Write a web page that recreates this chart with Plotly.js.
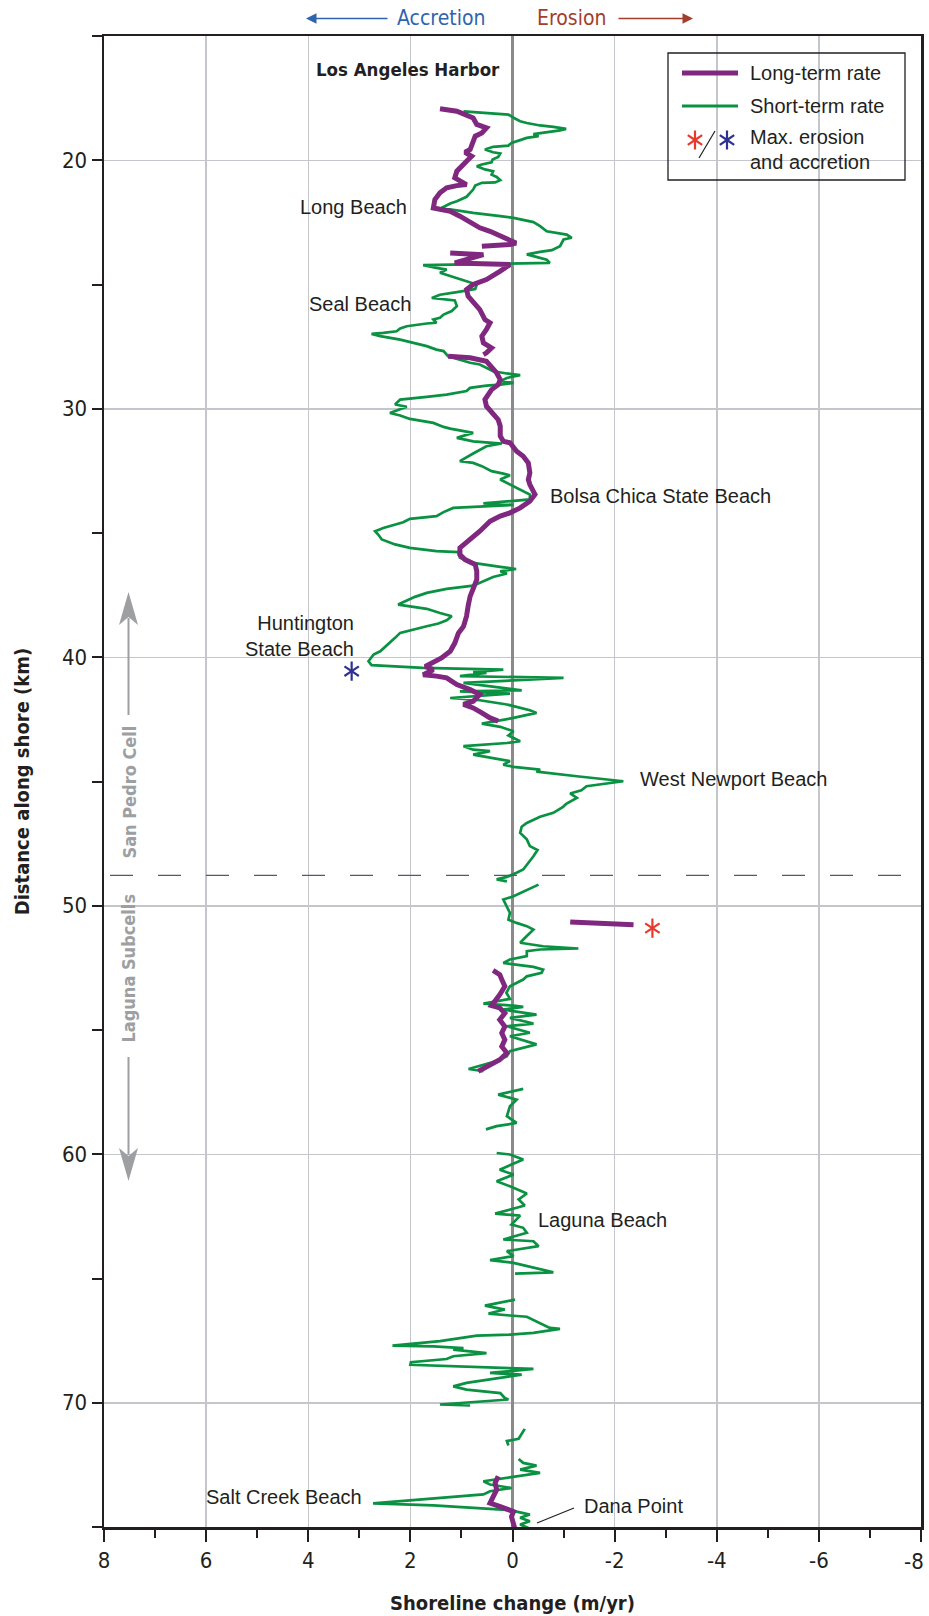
<!DOCTYPE html>
<html>
<head>
<meta charset="utf-8">
<script src="https://cdn.plot.ly/plotly-3.0.1.min.js"></script>
<style>
  html, body { margin: 0; padding: 0; background: #ffffff; }
  #chart { width: 929px; height: 1616px; }
</style>
</head>
<body>
<div id="chart"></div>
<script>
// Short-term shoreline change rate (m/yr) along the coast; null marks gaps in coverage.
const shortTermKm = [
  18.03, 18.12, 18.16, 18.29, 18.43, 18.50, 18.60, 18.66, 18.74, 18.80, 18.90, 18.95, 19.03, 19.10, 19.19,
  19.30, 19.41, 19.46, 19.57, 19.68, 19.73, 19.87, 19.97, 20.08, 20.17, 20.24, 20.37, 20.44, 20.58, 20.67,
  20.80, 20.89, 20.91, 21.02, 21.18, 21.31, 21.47, 21.65, 21.74, 21.92, 22.02, 22.12, 22.25, 22.32, 22.49,
  22.65, 22.86, 22.99, 23.12, 23.19, 23.46, 23.62, 23.69, 23.79, 23.86, 24.00, 24.13, 24.16, 24.20, 24.22,
  24.33, 24.40, 24.53, 24.67, 24.87, 25.00, 25.18, 25.31, 25.41, 25.54, 25.64, 25.87, 26.07, 26.21, 26.34,
  26.41, 26.54, 26.57, 26.68, 26.77, 26.88, 26.95, 26.99, 27.08, 27.22, 27.35, 27.48, 27.62, 27.68, 27.89,
  28.02, 28.15, 28.22, 28.36, 28.49, 28.58, 28.65, 28.76, 28.89, 28.96, 29.03, 29.07, 29.16, 29.29, 29.43,
  29.52, 29.63, 29.83, 29.92, 30.17, 30.27, 30.41, 30.57, 30.73, 30.80, 30.97, 31.17, 31.31, 31.40, 31.51,
  31.64, 31.80, 32.11, 32.18, 32.31, 32.51, 32.61, 32.68, 32.85, 32.98, 33.18, 33.45, 33.65, 33.81, 33.87,
  33.99, 34.16, 34.32, 34.43, 34.57, 34.80, 34.93, 35.06, 35.26, 35.46, 35.60, 35.73, 35.77, 36.00, 36.20,
  36.36, 36.45, 36.54, 36.63, 36.77, 37.12, 37.25, 37.41, 37.57, 37.88, 37.97, 38.05, 38.22, 38.35, 38.51,
  38.64, 38.75, 39.02, 39.22, 39.42, 39.76, 39.89, 40.16, 40.32, 40.43, 40.50, 40.60, 40.63, 40.76, 40.83,
  41.03, 41.33, 41.37, 41.46, 41.64, 41.73, 41.90, 42.13, 42.24, 42.44, 42.53, 42.67, 42.80, 42.98, 43.15,
  43.38, 43.45, 43.58, 43.72, 43.78, 43.92, 44.01, 44.12, 44.18, 44.32, 44.41, 44.52, 44.60, 44.79, 44.99,
  45.19, 45.35, 45.48, 45.66, 45.89, 46.02, 46.26, 46.42, 46.67, 46.82, 47.07, 47.33, 47.60, 47.76, 48.01,
  48.21, 48.54, 48.67, 48.84, 48.94, 49.02, null,
  49.15, 49.62, 49.75, 50.02, 50.29, 50.56, 50.69, 50.82, 50.96, 51.22, 51.49, 51.63, 51.72, 51.76, 51.83,
  52.03, 52.16, 52.30, 52.46, 52.57, 52.70, 52.84, 52.97, 53.24, 53.50, 53.75, 53.94, 54.02, 54.07, 54.18,
  54.38, 54.51, 54.74, 54.85, 55.11, 55.25, 55.58, 55.85, 56.05, 56.25, 56.46, 56.57, 56.66, null,
  57.37, 57.60, 57.80, 58.07, 58.47, 58.74, 58.87, 59.00, null,
  59.95, 60.01, 60.21, 60.62, 60.82, 61.09, 61.29, 61.58, 61.82, 62.06, 62.39, 62.47, 62.83, 62.96, 63.16,
  63.43, 63.50, 63.70, 63.90, 64.10, 64.26, 64.37, 64.75, 64.80, null,
  65.85, 66.09, 66.25, 66.41, 66.49, 66.54, 66.99, 67.03, 67.19, 67.26, 67.30, 67.39, 67.52, 67.70, 67.73,
  67.80, 67.86, 68.00, 68.13, 68.24, 68.37, 68.47, 68.53, 68.64, 68.80, 68.87, 69.20, 69.34, 69.47, 69.61,
  69.81, 69.87, 70.07, 70.11, null,
  71.05, 71.45, 71.54, 71.72, null,
  72.26, 72.42, 72.53, 72.69, 72.82, 72.96, 73.02, 73.16, 73.29, 73.43, 73.56, 73.69, 74.05, 74.13, 74.32,
  74.50, 74.63, 74.77, 74.90, 75.04
];
const shortTermRate = [
  0.96, 0.24, 0.08, -0.02, -0.15, -0.28, -0.54, -0.80, -1.05, -0.93, -0.54, -0.41, -0.51, -0.28, -0.15,
  0.02, 0.08, 0.38, 0.54, 0.38, 0.24, 0.28, 0.39, 0.41, 0.60, 0.70, 0.54, 0.38, 0.41, 0.31,
  0.24, 0.34, 0.60, 0.73, 0.77, 0.83, 0.90, 1.09, 1.22, 1.39, 1.09, 0.77, 0.24, -0.02, -0.41,
  -0.54, -0.67, -1.06, -1.16, -1.00, -0.93, -0.77, -0.54, -0.28, -0.41, -0.67, -0.73, 0.05, 1.22, 1.75,
  1.49, 1.29, 1.42, 1.22, 0.90, 0.70, 0.73, 1.09, 1.42, 1.58, 1.13, 1.09, 1.19, 1.35, 1.42,
  1.55, 1.49, 1.68, 2.07, 2.20, 2.27, 2.53, 2.76, 2.59, 2.20, 1.94, 1.68, 1.49, 1.35, 1.26,
  1.03, 0.83, 0.64, 0.51, 0.38, 0.11, -0.15, 0.11, 0.24, -0.02, 0.24, 0.51, 0.83, 0.90, 1.29,
  1.68, 2.20, 2.30, 2.07, 2.40, 2.20, 2.01, 1.55, 1.35, 1.22, 0.77, 1.09, 0.77, 0.21, 0.51,
  0.64, 0.77, 1.03, 0.77, 0.60, 0.41, 0.18, 0.05, 0.24, 0.11, -0.08, -0.34, -0.34, 0.57, -0.02,
  1.16, 1.35, 1.49, 2.01, 2.14, 2.53, 2.69, 2.63, 2.56, 2.30, 2.01, 1.49, 1.06, 1.03, 0.77,
  0.24, -0.07, 0.24, 0.11, 0.38, 0.77, 1.29, 1.68, 1.91, 2.24, 1.94, 1.68, 1.42, 1.19, 1.29,
  1.45, 1.68, 2.20, 2.30, 2.40, 2.59, 2.72, 2.82, 2.76, 1.75, 0.18, 0.77, 0.51, 1.03, -1.00,
  0.96, -0.18, 1.03, 0.05, 1.22, 0.64, 0.11, -0.34, -0.47, -0.02, 0.24, 0.60, 0.24, -0.02, 0.08,
  -0.15, 0.11, 0.96, 0.77, 0.44, 0.77, 0.51, 0.24, 0.05, 0.18, -0.02, -0.54, -0.47, -1.26, -2.17,
  -1.45, -1.35, -1.13, -1.26, -1.06, -0.99, -0.80, -0.54, -0.28, -0.18, -0.15, -0.28, -0.34, -0.49, -0.41,
  -0.34, -0.21, -0.08, 0.11, 0.31, 0.11, null,
  -0.51, -0.02, 0.18, 0.11, 0.05, 0.08, -0.08, -0.28, -0.41, -0.28, -0.15, -0.60, -1.29, -0.54, -0.28,
  -0.28, 0.05, 0.18, -0.41, -0.60, -0.57, -0.28, -0.21, 0.05, 0.12, 0.05, 0.57, -0.02, -0.21, 0.18,
  -0.47, 0.05, -0.41, 0.11, -0.34, 0.05, -0.47, 0.05, 0.11, 0.31, 0.64, 0.86, 0.57, null,
  -0.21, 0.28, -0.08, 0.05, 0.11, -0.08, 0.31, 0.52, null,
  0.31, 0.05, -0.21, 0.25, -0.02, 0.31, 0.05, -0.28, -0.12, -0.24, 0.34, -0.15, 0.02, -0.21, -0.28,
  0.18, -0.41, -0.51, 0.11, -0.02, 0.44, -0.02, -0.80, -0.05, null,
  -0.05, 0.54, 0.15, 0.47, 0.05, -0.28, -0.73, -0.93, -0.41, 0.05, 0.70, 1.03, 1.42, 2.35, 1.55,
  0.96, 1.16, 0.51, 1.16, 1.29, 1.99, 2.00, 1.03, -0.41, 0.44, -0.18, 0.90, 1.16, 0.90, 0.24,
  0.15, 0.08, 1.42, 0.83, null,
  -0.24, -0.12, 0.11, 0.08, null,
  -0.12, -0.21, -0.47, -0.15, -0.54, -0.08, 0.18, 0.57, 0.44, 0.02, 0.44, 0.57, 2.73, 1.55, 0.05,
  -0.34, -0.15, -0.34, -0.15, -0.31
];

// Long-term shoreline change rate (m/yr); null marks gaps in coverage.
const longTermKm = [
  17.93, 18.03, 18.30, 18.56, 18.70, 18.90, 19.03, 19.30, 19.57, 19.68, 19.84, 20.04, 20.24, 20.44, 20.71,
  20.85, 20.98, 21.02, 21.11, 21.31, 21.58, 21.92, 21.99, 22.05, 22.25, 22.52, 22.72, 22.86, 23.06, 23.26,
  23.33, 23.39, 23.46, null,
  23.73, 23.80, 24.13, 24.20, 24.46, 24.80, 25.00, 25.20, 25.47, 25.74, 26.01, 26.41, 26.54, 26.81, 27.08,
  27.35, 27.55, 27.75, 27.82, null,
  27.89, 27.95, 28.09, 28.29, 28.56, 28.83, 29.03, 29.23, 29.63, 29.90, 30.17, 30.44, 30.70, 31.10, 31.31,
  31.37, 31.71, 31.91, 32.18, 32.58, 32.85, 33.05, 33.45, 33.72, 33.99, 34.19, 34.32, 34.53, 34.93, 35.26,
  35.60, 35.87, 36.07, 36.27, 36.54, 36.88, 37.28, 37.55, 37.95, 38.35, 38.76, 39.03, 39.43, 39.76, 40.03,
  40.23, 40.37, 40.50, 40.70, 40.76, 40.83, 41.10, 41.30, 41.50, 41.77, 41.90, 42.04, 42.24, 42.44, 42.57, null,
  50.65, 50.76, null,
  52.60, 52.77, 52.97, 53.24, 53.58, 53.78, 54.02, 54.11, 54.32, 54.59, 54.86, 55.12, 55.39, 55.66, 55.93,
  56.20, 56.40, 56.66, null,
  72.96, 73.23, 73.50, 73.77, 74.04, 74.18, 74.31, 74.38, 74.58, 74.85, 75.10
];
const longTermRate = [
  1.42, 1.09, 0.77, 0.70, 0.51, 0.60, 0.73, 0.77, 0.83, 0.93, 0.80, 0.90, 1.00, 1.09, 1.13,
  1.03, 0.90, 1.09, 1.29, 1.42, 1.52, 1.55, 1.42, 1.22, 1.03, 0.83, 0.64, 0.44, 0.24, 0.05,
  -0.07, 0.05, 0.60, null,
  1.22, 0.57, 1.13, 0.05, 0.24, 0.51, 0.77, 0.90, 0.87, 0.77, 0.64, 0.54, 0.44, 0.51, 0.60,
  0.57, 0.41, 0.51, 0.57, null,
  1.26, 0.83, 0.51, 0.41, 0.31, 0.24, 0.28, 0.41, 0.54, 0.51, 0.38, 0.28, 0.24, 0.24, 0.18,
  0.05, -0.08, -0.21, -0.31, -0.34, -0.31, -0.34, -0.44, -0.34, -0.15, 0.05, 0.24, 0.44, 0.64, 0.83,
  1.03, 1.03, 0.93, 0.73, 0.70, 0.70, 0.77, 0.83, 0.87, 0.90, 0.96, 1.06, 1.13, 1.22, 1.39,
  1.58, 1.71, 1.55, 1.75, 1.49, 1.29, 1.09, 0.83, 0.64, 0.77, 0.96, 0.77, 0.60, 0.44, 0.28, null,
  -1.13, -2.37, null,
  0.38, 0.25, 0.21, 0.15, 0.25, 0.31, 0.41, 0.25, 0.15, 0.25, 0.15, 0.21, 0.15, 0.21, 0.11,
  0.25, 0.44, 0.67, null,
  0.28, 0.34, 0.31, 0.38, 0.44, 0.24, 0.08, -0.02, 0.02, -0.02, -0.05
];

// Asterisks flagging the maximum erosion and maximum accretion
const maxErosionKm = [50.9];
const maxErosionRate = [-2.74];
const maxAccretionKm = [40.56];
const maxAccretionRate = [3.15];

// Boundary between the San Pedro littoral cell and the Laguna subcells (km)
const cellBoundaryKm = 48.78;

// Axis ticks (the label of the right-most tick is set as an annotation so it stays inside the page)
const xTickVals = [8, 6, 4, 2, 0, -2, -4, -6, -8];
const xTickText = ['8', '6', '4', '2', '0', '-2', '-4', '-6', ''];
const xEdgeTickText = '-8';
const xMinorVals = [7, 5, 3, 1, -1, -3, -5, -7];
const yTickVals = [20, 30, 40, 50, 60, 70];
const yTickText = ['20', '30', '40', '50', '60', '70'];
const yMinorVals = [15, 25, 35, 45, 55, 65, 75];

// Place names along the coast
const placeNames = ['Long Beach', 'Seal Beach', 'Bolsa Chica State Beach', 'Huntington<br>State Beach',
  'West Newport Beach', 'Laguna Beach', 'Salt Creek Beach', 'Dana Point'];
const placeRate = [2.03, 1.95, -0.70, 3.07, -2.46, -0.46, 2.91, -1.36];
const placeKm = [21.9, 25.8, 33.5, 39.13, 44.88, 62.63, 73.78, 74.14];
const placeAnchor = ['right', 'right', 'left', 'right', 'left', 'left', 'right', 'left'];

const CONDENSED = "'DejaVu Sans Condensed', 'Liberation Sans Narrow', sans-serif";
const SANS = "'Liberation Sans', Arial, sans-serif";
const INK = '#231f20';
const PURPLE = '#80287f';
const GREEN = '#0a9142';
const RED = '#e8392d';
const BLUE = '#2e3192';
const CELL_GRAY = '#9d9fa2';

// Plot area in page pixels, used to place the decorations outside the data scales
const W = 929, H = 1616;
const M = {l: 104, r: 8, t: 36, b: 89};
const PW = W - M.l - M.r, PH = H - M.t - M.b;
const fx = px => (px - M.l) / PW;
const fy = py => (H - M.b - py) / PH;

const starMarker = color => ({
  symbol: ['y-up-open', 'y-down-open'], size: 12, color: color, line: {color: color, width: 2.2}
});

const traces = [
  {
    x: shortTermRate, y: shortTermKm, type: 'scatter', mode: 'lines',
    line: {color: GREEN, width: 2.7}, connectgaps: false, name: 'Short-term rate', hoverinfo: 'skip'
  },
  {
    x: longTermRate, y: longTermKm, type: 'scatter', mode: 'lines',
    line: {color: PURPLE, width: 5}, connectgaps: false, name: 'Long-term rate', hoverinfo: 'skip'
  },
  {
    x: maxErosionRate.concat(maxErosionRate), y: maxErosionKm.concat(maxErosionKm),
    type: 'scatter', mode: 'markers', name: 'Max. erosion', marker: starMarker(RED)
  },
  {
    x: maxAccretionRate.concat(maxAccretionRate), y: maxAccretionKm.concat(maxAccretionKm),
    type: 'scatter', mode: 'markers', name: 'Max. accretion', marker: starMarker(BLUE)
  },
  // key symbols for the legend box, on a 0-1 overlay frame
  {
    x: [fx(695), fx(695)], y: [fy(140), fy(140)], xaxis: 'x2', yaxis: 'y2',
    type: 'scatter', mode: 'markers', hoverinfo: 'skip', marker: starMarker(RED)
  },
  {
    x: [fx(727), fx(727)], y: [fy(140), fy(140)], xaxis: 'x2', yaxis: 'y2',
    type: 'scatter', mode: 'markers', hoverinfo: 'skip', marker: starMarker(BLUE)
  }
];

const annotations = [];
placeNames.forEach((t, i) => {
  annotations.push({
    text: t, x: placeRate[i], y: placeKm[i], xref: 'x', yref: 'y',
    xanchor: placeAnchor[i], yanchor: 'middle', align: placeAnchor[i], showarrow: false,
    font: {family: SANS, size: 20, color: INK}
  });
});
annotations.push(
  {text: xEdgeTickText, x: xTickVals[xTickVals.length - 1], y: fy(1562), xref: 'x', yref: 'paper',
   xanchor: 'right', xshift: 5, yanchor: 'middle', showarrow: false,
   font: {family: CONDENSED, size: 22, color: INK}},
  {text: 'Los Angeles Harbor', x: fx(408), y: fy(70), xref: 'paper', yref: 'paper', showarrow: false,
   xanchor: 'center', yanchor: 'middle', font: {family: CONDENSED, size: 18.5, color: INK, weight: 'bold'}},
  // direction key above the frame
  {text: 'Accretion', x: fx(441), y: fy(18), xref: 'paper', yref: 'paper', showarrow: false,
   xanchor: 'center', yanchor: 'middle', font: {family: CONDENSED, size: 21, color: '#2f64ad'}},
  {text: 'Erosion', x: fx(571), y: fy(18), xref: 'paper', yref: 'paper', showarrow: false,
   xanchor: 'center', yanchor: 'middle', font: {family: CONDENSED, size: 21, color: '#a33e2c'}},
  {text: '', x: fx(306), y: fy(18.5), xref: 'paper', yref: 'paper', showarrow: true,
   ax: 83, ay: 0, arrowhead: 2, arrowsize: 1.4, arrowwidth: 1.5, arrowcolor: '#2f64ad', standoff: 0},
  {text: '', x: fx(693), y: fy(18.5), xref: 'paper', yref: 'paper', showarrow: true,
   ax: -76, ay: 0, arrowhead: 2, arrowsize: 1.4, arrowwidth: 1.5, arrowcolor: '#a33e2c', standoff: 0},
  // littoral cell labels
  {text: 'San Pedro Cell', x: fx(128.5), y: fy(792), xref: 'paper', yref: 'paper', showarrow: false,
   textangle: -90, xanchor: 'center', yanchor: 'middle',
   font: {family: CONDENSED, size: 18, color: CELL_GRAY, weight: 'bold'}},
  {text: 'Laguna Subcells', x: fx(128.5), y: fy(968), xref: 'paper', yref: 'paper', showarrow: false,
   textangle: -90, xanchor: 'center', yanchor: 'middle',
   font: {family: CONDENSED, size: 18, color: CELL_GRAY, weight: 'bold'}},
  // legend entries
  {text: 'Long-term rate', x: fx(748), y: fy(73), xref: 'paper', yref: 'paper', showarrow: false,
   xanchor: 'left', yanchor: 'middle', font: {family: SANS, size: 20, color: INK}},
  {text: 'Short-term rate', x: fx(748), y: fy(106), xref: 'paper', yref: 'paper', showarrow: false,
   xanchor: 'left', yanchor: 'middle', font: {family: SANS, size: 20, color: INK}},
  {text: 'Max. erosion', x: fx(748), y: fy(137), xref: 'paper', yref: 'paper', showarrow: false,
   xanchor: 'left', yanchor: 'middle', font: {family: SANS, size: 20, color: INK}},
  {text: 'and accretion', x: fx(748), y: fy(162), xref: 'paper', yref: 'paper', showarrow: false,
   xanchor: 'left', yanchor: 'middle', font: {family: SANS, size: 20, color: INK}}
);

const shapes = [
  // cell boundary
  {type: 'line', xref: 'paper', yref: 'y', x0: fx(110), x1: 1, y0: cellBoundaryKm, y1: cellBoundaryKm,
   line: {color: '#58595b', width: 1.2, dash: '23px,25px'}},
  // cell extent arrows
  {type: 'line', xref: 'paper', yref: 'paper', x0: fx(128.5), x1: fx(128.5), y0: fy(715), y1: fy(618),
   line: {color: CELL_GRAY, width: 2}},
  {type: 'path', xref: 'paper', yref: 'paper', fillcolor: CELL_GRAY, line: {width: 0},
   path: `M${fx(128.5)},${fy(592)} L${fx(138)},${fy(625)} L${fx(128.5)},${fy(617)} L${fx(119)},${fy(625)} Z`},
  {type: 'line', xref: 'paper', yref: 'paper', x0: fx(128.5), x1: fx(128.5), y0: fy(1057), y1: fy(1155),
   line: {color: CELL_GRAY, width: 2}},
  {type: 'path', xref: 'paper', yref: 'paper', fillcolor: CELL_GRAY, line: {width: 0},
   path: `M${fx(128.5)},${fy(1181)} L${fx(138)},${fy(1148)} L${fx(128.5)},${fy(1156)} L${fx(119)},${fy(1148)} Z`},
  // Dana Point leader
  {type: 'line', xref: 'paper', yref: 'paper', x0: fx(537), y0: fy(1523), x1: fx(574), y1: fy(1508),
   line: {color: INK, width: 1.2}},
  // legend box
  {type: 'rect', xref: 'paper', yref: 'paper', x0: fx(668), x1: fx(905), y0: fy(53), y1: fy(180),
   line: {color: INK, width: 1.3}, fillcolor: 'rgba(0,0,0,0)'},
  {type: 'line', xref: 'paper', yref: 'paper', x0: fx(682), x1: fx(738), y0: fy(73), y1: fy(73),
   line: {color: PURPLE, width: 5}},
  {type: 'line', xref: 'paper', yref: 'paper', x0: fx(682), x1: fx(738), y0: fy(106), y1: fy(106),
   line: {color: GREEN, width: 3}},
  {type: 'line', xref: 'paper', yref: 'paper', x0: fx(699), x1: fx(715), y0: fy(158), y1: fy(131),
   line: {color: INK, width: 1.2}}
];

const layout = {
  width: W, height: H,
  margin: {l: M.l, r: M.r, t: M.t, b: M.b, pad: 0},
  paper_bgcolor: '#ffffff', plot_bgcolor: '#ffffff',
  showlegend: false,
  font: {family: CONDENSED, color: INK},
  xaxis: {
    range: [8, -8], tickmode: 'array', tickvals: xTickVals, ticktext: xTickText,
    ticks: 'outside', ticklen: 12, tickwidth: 2, tickcolor: INK,
    tickfont: {family: CONDENSED, size: 22, color: INK},
    showline: true, linewidth: 2.5, linecolor: INK, mirror: true,
    showgrid: true, gridcolor: '#c4c6cc', gridwidth: 1.5,
    zeroline: true, zerolinecolor: '#8a8a8a', zerolinewidth: 2.2,
    minor: {tickvals: xMinorVals, ticks: 'outside', ticklen: 8, tickwidth: 2, tickcolor: INK, showgrid: false},
    title: {text: 'Shoreline change (m/yr)', standoff: 24,
            font: {family: CONDENSED, size: 20, color: INK, weight: 'bold'}},
    fixedrange: true
  },
  yaxis: {
    range: [75, 15], tickmode: 'array', tickvals: yTickVals, ticktext: yTickText,
    ticks: 'outside', ticklen: 10, tickwidth: 2, tickcolor: INK,
    tickfont: {family: CONDENSED, size: 22, color: INK},
    showline: true, linewidth: 2.5, linecolor: INK, mirror: true,
    showgrid: true, gridcolor: '#c4c6cc', gridwidth: 1.5, zeroline: false,
    minor: {tickvals: yMinorVals, ticks: 'outside', ticklen: 10, tickwidth: 2, tickcolor: INK, showgrid: false},
    title: {text: 'Distance along shore (km)', standoff: 27,
            font: {family: CONDENSED, size: 20, color: INK, weight: 'bold'}},
    fixedrange: true
  },
  xaxis2: {overlaying: 'x', range: [0, 1], visible: false, fixedrange: true},
  yaxis2: {overlaying: 'y', range: [0, 1], visible: false, fixedrange: true},
  annotations: annotations,
  shapes: shapes
};

Plotly.newPlot('chart', traces, layout, {staticPlot: true, displayModeBar: false});
</script>
</body>
</html>
